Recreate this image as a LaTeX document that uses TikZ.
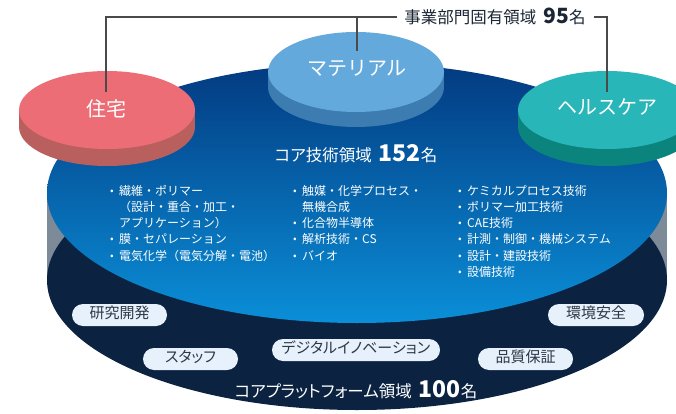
\documentclass[tikz,border=0pt]{standalone}
\usepackage{fontspec}
\setmainfont{Noto Sans CJK JP}
\newfontfamily\jpp[RawFeature=+palt]{Noto Sans CJK JP}
\newcommand\fs[1]{\fontsize{#1}{#1}\selectfont}
\newcommand\bl{\makebox[9pt][l]{\raisebox{1pt}{\fs{10.5}•}}}
\newcommand\ind{\hspace*{9pt}}
\definecolor{platform}{HTML}{0B2341}
\definecolor{greyside}{HTML}{7D8B98}
\definecolor{bluetop}{HTML}{033A80}
\definecolor{bluemid}{HTML}{0563B1}
\definecolor{bluebot}{HTML}{0A8FD8}
\definecolor{redtop}{HTML}{EC6D76}
\definecolor{redside}{HTML}{B9605F}
\definecolor{mattop}{HTML}{64A9DC}
\definecolor{matside}{HTML}{3C7CB0}
\definecolor{tealtop}{HTML}{28B6B9}
\definecolor{tealside}{HTML}{0B847E}
\definecolor{pillfill}{HTML}{E7F1FB}
\definecolor{pilltext}{HTML}{2B3848}
\definecolor{leadercol}{HTML}{4A4A4A}
\definecolor{labeltext}{HTML}{1B2635}
\tikzset{
  leader/.style={draw=leadercol, line width=1.3pt},
  disklabel/.style={text=white, inner sep=0pt, font=\fs{20}, text height=0.8em, text depth=0.04em},
  pill/.style={fill=pillfill, rounded corners=11pt, minimum height=22pt, inner sep=0pt,
    text=pilltext, font=\jpp\fs{15}, text height=0.8em, text depth=0.04em},
  bullettext/.style={anchor=base west, inner sep=0pt, text=white, font=\fs{12}},
  biglabel/.style={anchor=base, inner sep=0pt},
}
\begin{document}
\begin{tikzpicture}[x=1pt,y=-1pt]
\useasboundingbox (0,0) rectangle (676,414);
\clip (0,0) rectangle (676,414);
% base platform and core disk
\fill[greyside] (47,193) rectangle (667,280);
\fill[platform] (357,280) ellipse[x radius=310,y radius=130];
\shade[top color=bluetop, middle color=bluemid, bottom color=bluebot]
  (357,193) ellipse[x radius=310,y radius=130];
% red disk
\fill[redside] (19,110) rectangle (195,127);
\fill[redside] (107,127) ellipse[x radius=88,y radius=39];
\fill[redtop] (107,110) ellipse[x radius=88,y radius=39];
% material disk
\fill[matside] (268,72) rectangle (444,87);
\fill[matside] (356,87) ellipse[x radius=88,y radius=40];
\fill[mattop] (356,72) ellipse[x radius=88,y radius=40];
% teal disk
\fill[tealside] (518,110) rectangle (696,127);
\fill[tealside] (607,127) ellipse[x radius=89,y radius=39];
\fill[tealtop] (607,110) ellipse[x radius=89,y radius=39];
% disk labels
\node[disklabel] (jutaku) at (106,113) {住宅};
\node[disklabel] (material) at (357,72) {マテリアル};
\node[disklabel] (health) at (607,111) {ヘルスケア};
% top label and leaders
\node[biglabel, text=labeltext] (toplbl) at (495,23.3)
  {\fs{16.5}事業部門固有領域\hspace{7pt}{\fs{21}\bfseries 95}名};
\coordinate (rl) at (106,92);
\coordinate (lend) at (397,17);
\coordinate (mtop) at (357,17);
\coordinate (ml) at (357,51);
\coordinate (rend) at (594,17);
\coordinate (tl) at (607,92);
\draw[leader] (rl) |- (lend);
\draw[leader] (mtop) -- (ml);
\draw[leader] (rend) -| (tl);
% core label
\node[biglabel, text=white] (core) at (356,161)
  {\jpp\fs{16.5}コア技術領域\hspace{7pt}{\fs{23}\bfseries 152}名};
% bullet columns
\foreach \t [count=\i] in {{\bl 繊維・ポリマー},{\ind （設計・重合・加工・},{\ind アプリケーション）},{\bl 膜・セパレーション},{\bl 電気化学（電気分解・電池）}}
  \node[bullettext] (a\i) at (110,{195+16.3*(\i-1)}) {\t};
\foreach \t [count=\i] in {{\bl 触媒・化学プロセス・},{\ind 無機合成},{\bl 化合物半導体},{\bl 解析技術・CS},{\bl バイオ}}
  \node[bullettext] (b\i) at (293,{195+16.3*(\i-1)}) {\t};
\foreach \t [count=\i] in {{\bl ケミカルプロセス技術},{\bl ポリマー加工技術},{\bl CAE技術},{\bl 計測・制御・機械システム},{\bl 設計・建設技術},{\bl 設備技術}}
  \node[bullettext] (c\i) at (458,{195+16.3*(\i-1)}) {\t};
% pills
\node[pill, minimum width=95pt] (kenkyu) at (119.5,315) {研究開発};
\node[pill, minimum width=95pt] (staff) at (190.5,359) {スタッフ};
\node[pill, minimum width=168pt] (digital) at (356,350) {デジタルイノベーション};
\node[pill, minimum width=95pt] (hinshitsu) at (525.5,359) {品質保証};
\node[pill, minimum width=96pt] (kankyo) at (596,315) {環境安全};
% platform label
\node[biglabel, text=white] (plat) at (356,397)
  {\jpp\fs{16.5}コアプラットフォーム領域\hspace{7pt}{\fs{23}\bfseries 100}名};
\end{tikzpicture}
\end{document}
